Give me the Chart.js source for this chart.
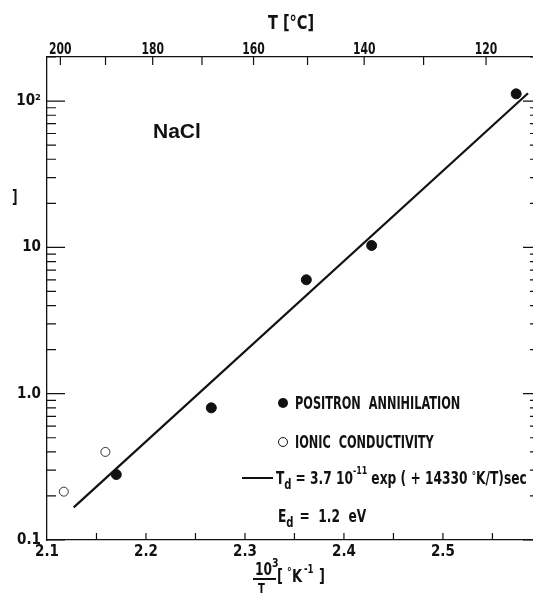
<!DOCTYPE html>
<html>
<head>
<meta charset="utf-8">
<script src="https://cdn.jsdelivr.net/npm/chart.js@4/dist/chart.umd.min.js"></script>
<style>
  body { margin: 0; background: #fff; }
  canvas { display: block; }
</style>
</head>
<body>
<canvas id="chart" width="533" height="606"></canvas>
<script>
// values
const positronX = [2.170, 2.266, 2.362, 2.428, 2.574];
const positronY = [0.28, 0.80, 6.0, 10.3, 112];
const ionicX = [2.117, 2.159];
const ionicY = [0.214, 0.40];
const fitX = [2.127, 2.586];
const fitY = [0.167, 113];

const xLabels = [2.1, 2.2, 2.3, 2.4, 2.5];
const xTickMarks = [2.15, 2.2, 2.25, 2.3, 2.35, 2.4, 2.45, 2.5, 2.55];
const tempLabels = [200, 180, 160, 140, 120];
const tempTickMarks = [200, 190, 180, 170, 160, 150, 140, 130, 120];
const yLabels = {0.1: '0.1', 1: '1.0', 10: '10', 100: '10²'};

const FONT = "'Liberation Sans Narrow', 'DejaVu Sans Condensed', sans-serif";

function toPoints(xs, ys) {
    return xs.map((x, i) => ({x: x, y: ys[i]}))
}

function invT(c) {
    return 1000 / (c + 273.15)
}

function txt(ctx, s, x, y, size, sx) {
    ctx.save()
    ctx.font = 'bold ' + size + 'px ' + FONT
    ctx.translate(x, y)
    ctx.scale(sx, 1)
    ctx.fillText(s, 0, 0)
    let w = ctx.measureText(s).width * sx
    ctx.restore()
    return w
}

const tickPlugin = {
    id: 'ticks',
    afterDraw(chart) {
        const ctx = chart.ctx
        const a = chart.chartArea
        const x = chart.scales.x, y = chart.scales.y
        ctx.save()
        ctx.strokeStyle = '#111'
        ctx.lineWidth = 1.2
        ctx.beginPath()
        xTickMarks.forEach(v => {
            let px = x.getPixelForValue(v)
            ctx.moveTo(px, a.bottom); ctx.lineTo(px, a.bottom - 7)
        })
        tempTickMarks.forEach(c => {
            let px = x.getPixelForValue(invT(c))
            ctx.moveTo(px, a.top); ctx.lineTo(px, a.top + 8)
        })
        for (let d = 0.1; d < 300; d *= 10) {
            for (let m = 1; m < 10; m++) {
                let v = d * m
                if (v > y.max) break
                let py = y.getPixelForValue(v)
                ctx.moveTo(a.left, py); ctx.lineTo(a.left + (m == 1 ? 18 : 9), py)
                ctx.moveTo(a.right, py); ctx.lineTo(a.right - (m == 1 ? 10 : 3), py)
            }
        }
        ctx.stroke()

        // texts
        ctx.fillStyle = '#111'
        ctx.textBaseline = 'alphabetic'
        ctx.textAlign = 'left'
        txt(ctx, 'T [°C]', 268, 29, 19, 0.85)
        tempLabels.forEach(c => {
            let px = x.getPixelForValue(invT(c))
            ctx.textAlign = 'center'
            txt(ctx, String(c), px, 54, 15, 0.8)
        })
        ctx.textAlign = 'left'
        txt(ctx, ']', 12, 203, 17, 0.8)

        ctx.save()
        ctx.font = 'bold 21px "Liberation Sans", sans-serif'
        ctx.fillText('NaCl', 153, 138)
        ctx.restore()

        // x axis title  10^3 / T [°K^-1]
        txt(ctx, '10', 255, 575, 17, 0.8)
        txt(ctx, '3', 272, 567, 13, 0.8)
        ctx.fillRect(253, 578, 23, 2)
        txt(ctx, 'T', 258, 593, 14, 0.8)
        txt(ctx, '[', 277, 582, 18, 0.8)
        txt(ctx, '°', 287, 576, 13, 0.8)
        txt(ctx, 'K', 292, 582, 18, 0.8)
        txt(ctx, '-1', 304, 573, 12, 0.8)
        txt(ctx, ']', 319, 582, 18, 0.8)

        // legend
        const lx = 283
        ctx.beginPath()
        ctx.arc(lx, 403, 5, 0, Math.PI * 2)
        ctx.fill()
        txt(ctx, 'POSITRON  ANNIHILATION', 295, 409, 17, 0.74)
        ctx.beginPath()
        ctx.lineWidth = 1
        ctx.arc(lx, 442, 4.5, 0, Math.PI * 2)
        ctx.stroke()
        txt(ctx, 'IONIC  CONDUCTIVITY', 295, 448, 17, 0.74)
        ctx.fillRect(242, 477, 31, 2)
        let cx = 276
        cx += txt(ctx, 'T', cx, 484, 17, 0.8)
        cx += txt(ctx, 'd', cx, 489, 14, 0.8) + 4
        cx += txt(ctx, '= 3.7 10', cx, 484, 17, 0.8)
        cx += txt(ctx, '-11', cx, 474, 11, 0.8) + 4
        cx += txt(ctx, 'exp ( + 14330 ', cx, 484, 17, 0.8)
        cx += txt(ctx, '°', cx, 480, 12, 0.8)
        txt(ctx, 'K/T)sec', cx, 484, 17, 0.8)
        let ex = 278
        ex += txt(ctx, 'E', ex, 522, 17, 0.8)
        ex += txt(ctx, 'd', ex, 527, 14, 0.8) + 6
        txt(ctx, '=  1.2  eV', ex, 522, 17, 0.8)
        ctx.restore()
    }
}

new Chart(document.getElementById('chart'), {
    type: 'scatter',
    data: {
        datasets: [
            {
                type: 'line',
                label: 'fit',
                data: toPoints(fitX, fitY),
                borderColor: '#111',
                borderWidth: 2.2,
                pointRadius: 0,
                fill: false
            },
            {
                label: 'Positron annihilation',
                data: toPoints(positronX, positronY),
                backgroundColor: '#111',
                borderColor: '#111',
                pointRadius: 5,
                pointHoverRadius: 5
            },
            {
                label: 'Ionic conductivity',
                data: toPoints(ionicX, ionicY),
                backgroundColor: '#fff',
                borderColor: '#333',
                borderWidth: 1,
                pointRadius: 4.5
            }
        ]
    },
    options: {
        responsive: false,
        animation: false,
        events: [],
        layout: {padding: 0, autoPadding: false},
        plugins: {legend: {display: false}, tooltip: {enabled: false}},
        scales: {
            x: {
                type: 'linear',
                position: 'bottom',
                min: 2.1,
                max: 2.591,
                afterBuildTicks: s => { s.ticks = xLabels.map(v => ({value: v})) },
                afterFit: s => { s.height = 66 },
                grid: {display: false, drawTicks: false},
                border: {display: true, color: '#111', width: 1.3},
                ticks: {
                    color: '#111',
                    padding: 3,
                    font: {family: FONT, size: 15, weight: 'bold'},
                    callback: v => v.toFixed(1)
                }
            },
            top: {
                type: 'linear',
                position: 'top',
                min: 2.1,
                max: 2.591,
                afterFit: s => { s.height = 57 },
                grid: {display: false, drawTicks: false},
                border: {display: true, color: '#111', width: 1.3},
                ticks: {display: false}
            },
            y: {
                type: 'logarithmic',
                min: 0.1,
                max: 200,
                afterBuildTicks: s => { s.ticks = Object.keys(yLabels).map(v => ({value: +v})) },
                afterFit: s => { s.width = 47 },
                grid: {display: false, drawTicks: false},
                border: {display: true, color: '#111', width: 1.3},
                ticks: {
                    color: '#111',
                    padding: 6,
                    font: {family: FONT, size: 15, weight: 'bold'},
                    callback: v => yLabels[v]
                }
            }
        }
    },
    plugins: [tickPlugin]
});
</script>
</body>
</html>
